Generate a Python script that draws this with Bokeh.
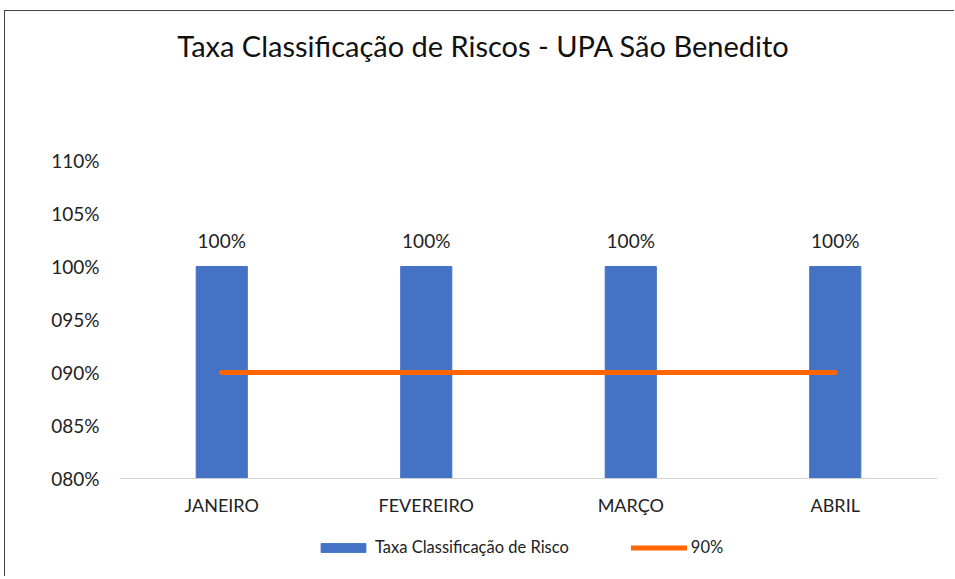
from bokeh.plotting import figure
from bokeh.models import (ColumnDataSource, Range1d, FactorRange, LabelSet, Label,
                          Legend, LegendItem, FixedTicker)
from bokeh.core.properties import value
from bokeh.embed import file_html
from bokeh.resources import INLINE

months = ["JANEIRO", "FEVEREIRO", "MARÇO", "ABRIL"]
rates = [1.00, 1.00, 1.00, 1.00]
rate_labels = ["100%", "100%", "100%", "100%"]
target = [0.90, 0.90, 0.90, 0.90]
y_ticks = [0.80, 0.85, 0.90, 0.95, 1.00, 1.05, 1.10]
y_tick_labels = ["080%", "085%", "090%", "095%", "100%", "105%", "110%"]
y_min, y_max = 0.80, 1.10

title_text = "Taxa Classificação de Riscos - UPA São Benedito"
bar_name = "Taxa Classificação de Risco"
line_name = "90%"

FONT = "Lato"

# ---- layout (page pixels) ----
OX, OY = 5, 11                 # canvas origin on page (after css margin+border)
W, H = 950, 566                # canvas size
FRAME_L, FRAME_R = 119, 937    # plot area, page x
AX_TOP, AX_BOT = 160, 478      # pixel of y_max / y_min, page y
px_per_unit = (AX_BOT - AX_TOP) / (y_max - y_min)
page_bottom = OY + H
y_end = y_max + (AX_TOP - OY) / px_per_unit
y_start = y_min - (page_bottom - AX_BOT) / px_per_unit

src = ColumnDataSource(dict(m=months, v=rates, lab=rate_labels, t=target))

p = figure(width=W, height=H, output_backend="svg", toolbar_location=None,
           x_range=FactorRange(*months, range_padding=0),
           y_range=Range1d(y_start, y_end),
           title_location=None,
           min_border_left=FRAME_L - OX, min_border_right=W - (FRAME_R - OX),
           min_border_top=0, min_border_bottom=0)
p.outline_line_color = None
p.xgrid.grid_line_color = None
p.ygrid.grid_line_color = None
p.background_fill_color = "white"
p.border_fill_color = "white"
p.styles = {"margin-left": "4px", "margin-top": "10px",
            "border-left": "1px solid #444444", "border-top": "1px solid #444444"}

bars = p.vbar(x="m", top="v", bottom=y_min, width=0.25, source=src,
              fill_color="#4472C4", line_color="#4472C4")
ln = p.line(x="m", y="t", source=src, line_color="#FF6600", line_width=5,
            line_cap="round")

p.add_layout(LabelSet(x="m", y="v", text="lab", source=src, text_align="center",
                      text_baseline="bottom", y_offset=15,
                      text_font=value(FONT), text_font_size="19px",
                      text_color="#222222"))

p.yaxis.ticker = FixedTicker(ticks=y_ticks)
p.yaxis.major_label_overrides = {t: l for t, l in zip(y_ticks, y_tick_labels)}
p.yaxis.axis_line_color = None
p.yaxis.major_tick_line_color = None
p.yaxis.major_tick_out = 0
p.yaxis.minor_tick_line_color = None
p.yaxis.major_label_standoff = 20
p.yaxis.major_label_text_font = FONT
p.yaxis.major_label_text_font_size = "19px"
p.yaxis.major_label_text_color = "#222222"

p.xaxis.fixed_location = y_min
p.xaxis.axis_line_color = "#D0D0D0"
p.xaxis.axis_line_width = 1
p.xaxis.major_tick_line_color = None
p.xaxis.major_tick_out = 0
p.xaxis.minor_tick_line_color = None
p.xaxis.major_label_standoff = 15
p.xaxis.major_label_text_font = FONT
p.xaxis.major_label_text_font_size = "18px"
p.xaxis.major_label_text_color = "#222222"

# title, positioned in screen pixels relative to the plot area
p.add_layout(Label(x=483 - FRAME_L, y=page_bottom - 45, x_units="screen",
                   y_units="screen", text=title_text, text_align="center",
                   text_baseline="middle", text_font=FONT, text_font_size="29px",
                   text_color="#111111"))

legend = Legend(items=[LegendItem(label=bar_name, renderers=[bars]),
                       LegendItem(label=line_name, renderers=[ln])],
                orientation="horizontal", location=(315 - FRAME_L, page_bottom - 557),
                glyph_width=56, glyph_height=11, label_standoff=4, spacing=62,
                label_text_font=FONT, label_text_font_size="16.5px",
                label_text_color="#222222", border_line_color=None,
                background_fill_alpha=0, margin=0, padding=0)
p.add_layout(legend, "center")

open("out.html", "w").write(file_html(p, INLINE))
